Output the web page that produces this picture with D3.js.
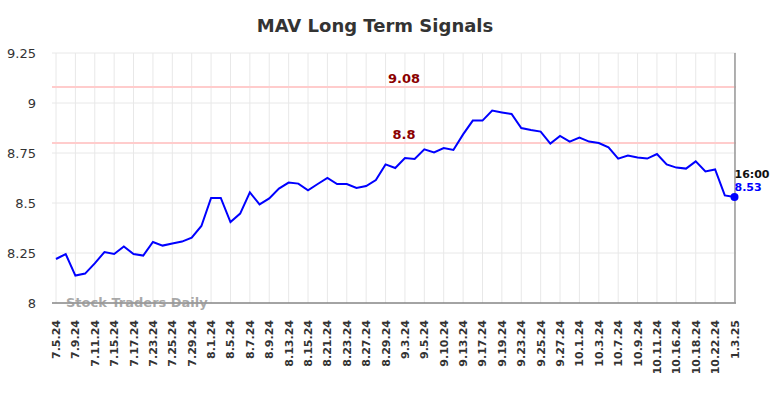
<!DOCTYPE html>
<html><head><meta charset="utf-8">
<script src="https://cdn.jsdelivr.net/npm/d3@7"></script>
<style>body{margin:0;background:#fff;}svg{display:block;font-family:"DejaVu Sans",sans-serif;}</style>
</head><body><svg id="c" width="784" height="398"></svg>
<script>
const dates = ["7.5.24","7.8.24","7.9.24","7.10.24","7.11.24","7.12.24","7.15.24","7.16.24","7.17.24","7.18.24",
"7.23.24","7.24.24","7.25.24","7.26.24","7.29.24","7.30.24","8.1.24","8.2.24","8.5.24","8.6.24",
"8.7.24","8.8.24","8.9.24","8.12.24","8.13.24","8.14.24","8.15.24","8.16.24","8.21.24","8.22.24",
"8.23.24","8.26.24","8.27.24","8.28.24","8.29.24","8.30.24","9.3.24","9.4.24","9.5.24","9.6.24",
"9.10.24","9.11.24","9.13.24","9.16.24","9.17.24","9.18.24","9.19.24","9.20.24","9.23.24","9.24.24",
"9.25.24","9.26.24","9.27.24","9.30.24","10.1.24","10.2.24","10.3.24","10.4.24","10.7.24","10.8.24",
"10.9.24","10.10.24","10.11.24","10.15.24","10.16.24","10.17.24","10.18.24","10.21.24","10.22.24","10.23.24","1.3.25"];
const values = [8.22,8.245,8.137,8.147,8.198,8.255,8.245,8.283,8.245,8.237,
8.305,8.287,8.297,8.307,8.327,8.385,8.525,8.525,8.405,8.447,
8.553,8.493,8.523,8.572,8.602,8.597,8.563,8.595,8.625,8.595,
8.595,8.575,8.585,8.615,8.693,8.675,8.725,8.72,8.768,8.753,
8.775,8.765,8.843,8.912,8.912,8.962,8.953,8.945,8.875,8.865,
8.857,8.797,8.835,8.807,8.827,8.807,8.80,8.778,8.722,8.737,
8.727,8.722,8.745,8.693,8.677,8.672,8.708,8.658,8.668,8.538,8.53];
const tickLabels = dates.filter((d,i)=>i%2===0);
const yTicks = [8,8.25,8.5,8.75,9,9.25];
const yTickLabels = ["8","8.25","8.5","8.75","9","9.25"];
const signalLevels = [9.08, 8.8];
const signalLabels = ["9.08","8.8"];
const lastTime = "16:00";
const lastLabel = "8.53";
const title = "MAV Long Term Signals";
const watermark = "Stock Traders Daily";

const svg = d3.select("#c");
const L=52, R=736, T=53, B=303;
const x = d3.scalePoint().domain(dates).range([56, 734.5]);
const y = d3.scaleLinear().domain([8, 9.25]).range([B, T]);

// grid
const g = svg.append("g");
g.selectAll(".hg").data(yTicks).enter().append("line")
  .attr("x1",L).attr("x2",R).attr("y1",d=>y(d)).attr("y2",d=>y(d))
  .attr("stroke","#e8e8e8").attr("stroke-width",1);
g.selectAll(".vg").data(tickLabels).enter().append("line")
  .attr("x1",d=>x(d)).attr("x2",d=>x(d)).attr("y1",T).attr("y2",B)
  .attr("stroke","#e8e8e8").attr("stroke-width",1);

// y labels
svg.append("g").selectAll("text").data(yTicks).enter().append("text")
  .attr("x",36).attr("y",d=>y(d)).attr("dy","0.35em").attr("text-anchor","end")
  .attr("font-size",13).attr("fill","#333").text((d,i)=>yTickLabels[i]);

// signal lines
svg.append("g").selectAll("line").data(signalLevels).enter().append("line")
  .attr("x1",L).attr("x2",R).attr("y1",d=>y(d)).attr("y2",d=>y(d))
  .attr("stroke","#ffcccc").attr("stroke-width",2);
svg.append("g").selectAll("text").data(signalLevels).enter().append("text")
  .attr("x",404).attr("y",d=>y(d)-4).attr("text-anchor","middle")
  .attr("font-size",13).attr("font-weight","bold").attr("fill","#8b0000")
  .text((d,i)=>signalLabels[i]);

// axis bottom line
svg.append("line").attr("x1",L).attr("x2",R).attr("y1",B).attr("y2",B)
  .attr("stroke","#555").attr("stroke-width",1.2);
// right vertical line
svg.append("line").attr("x1",735).attr("x2",735).attr("y1",T).attr("y2",B)
  .attr("stroke","#999").attr("stroke-width",1.5);

// watermark
svg.append("text").attr("x",66).attr("y",307).attr("font-size",13).attr("font-weight","bold")
  .attr("fill","#999").attr("fill-opacity",0.85).text(watermark);

// x labels
svg.append("g").selectAll("text").data(tickLabels).enter().append("text")
  .attr("transform",d=>`translate(${x(d)+4},320) rotate(-90)`)
  .attr("text-anchor","end").attr("font-size",11).attr("font-weight","bold").attr("fill","#333")
  .text(d=>d);

// line
const line = d3.line().x((d,i)=>x(dates[i])).y(d=>y(d));
svg.append("path").datum(values).attr("d",line).attr("fill","none")
  .attr("stroke","#0000ff").attr("stroke-width",2);

const lx = x(dates[dates.length-1]), ly = y(values[values.length-1]);
svg.append("circle").attr("cx",lx).attr("cy",ly).attr("r",4).attr("fill","#0000ff");
svg.append("text").attr("x",lx).attr("y",ly-19).attr("font-size",11).attr("font-weight","bold")
  .attr("fill","#111").text(lastTime);
svg.append("text").attr("x",lx).attr("y",ly-6).attr("font-size",11).attr("font-weight","bold")
  .attr("fill","#0000ff").text(lastLabel);

// title
svg.append("text").attr("x",375).attr("y",32).attr("text-anchor","middle")
  .attr("font-size",18).attr("font-weight","bold").attr("fill","#333").text(title);
</script></body></html>
